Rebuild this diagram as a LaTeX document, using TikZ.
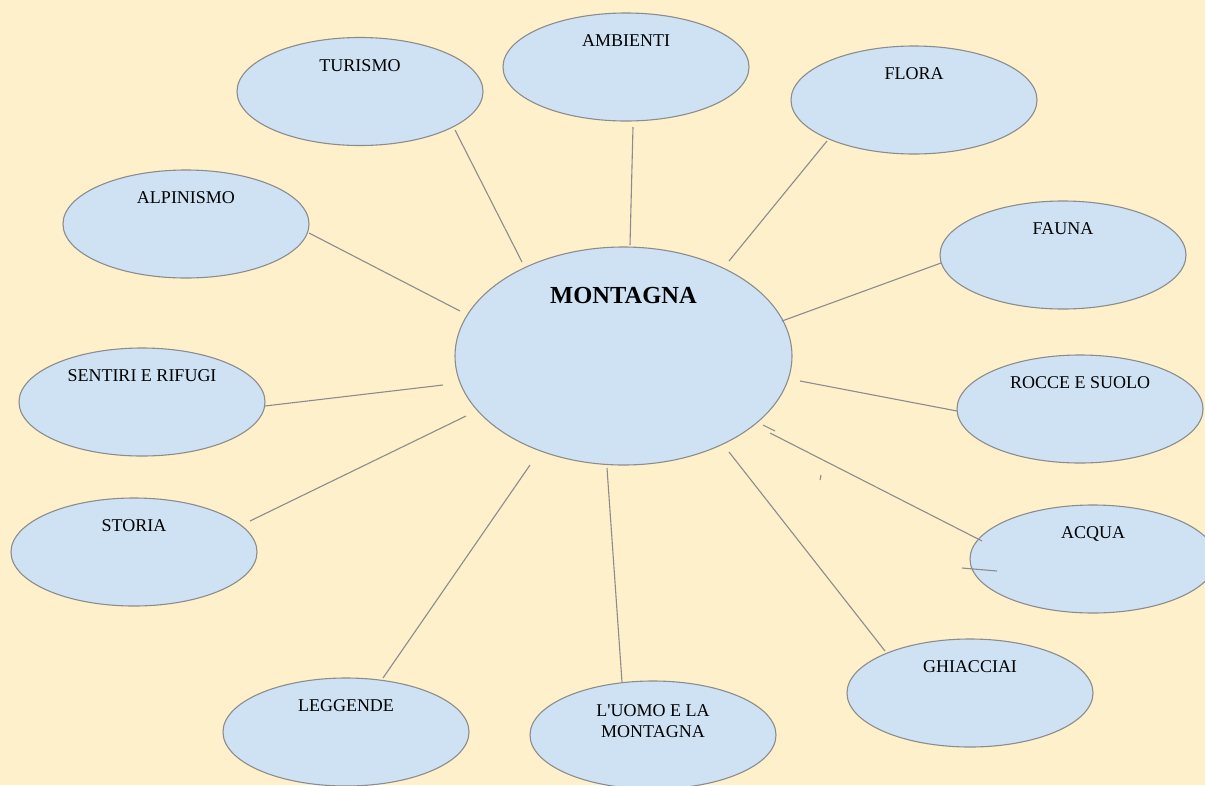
\documentclass[tikz,border=0pt]{standalone}
\usepackage{fontspec}
\setmainfont{Liberation Serif}[Ligatures=TeXOff]
\usetikzlibrary{shapes.geometric}
\definecolor{bg}{HTML}{FFF0CC}
\definecolor{bubf}{HTML}{CFE2F3}
\definecolor{lineg}{HTML}{8C8C8C}
\tikzset{
  bub/.style={ellipse, draw=lineg, fill=bubf, line width=1.1pt,
    minimum width=246pt, minimum height=108pt, inner sep=0pt},
  lab/.style={font=\fontsize{18}{21}\selectfont, align=center, inner sep=0pt,
    anchor=base},
  conn/.style={draw=lineg, line width=1.1pt},
}
\begin{document}
\begin{tikzpicture}[x={(1pt,0)}, y={(0,-1pt)}]
\fill[bg] (0,0) rectangle (1205,785);
\useasboundingbox (0,0) rectangle (1205,785);

\coordinate (t1) at (455,130); \coordinate (t2) at (522,262);
\coordinate (a1) at (633,127); \coordinate (a2) at (630,245);
\coordinate (f1) at (827,141); \coordinate (f2) at (729,261);
\coordinate (p1) at (309,233); \coordinate (p2) at (460,311);
\coordinate (u1) at (941,263); \coordinate (u2) at (782,321);
\coordinate (s1) at (265,406); \coordinate (s2) at (443,385);
\coordinate (r1) at (800,381); \coordinate (r2) at (957,411);
\coordinate (o1) at (250,521); \coordinate (o2) at (466,416);
\coordinate (q1) at (770,433); \coordinate (q2) at (982,541);
\coordinate (g1) at (729,452); \coordinate (g2) at (885,651);
\coordinate (l1) at (530,465); \coordinate (l2) at (383,678);
\coordinate (m1) at (607,468); \coordinate (m2) at (622,682);

\node[bub, minimum width=337pt, minimum height=218pt] (main) at (623.5,356) {};
\node[font=\fontsize{24.5}{28}\selectfont\bfseries, inner sep=0pt, anchor=base]
  (mainL) at ([yshift=53pt]main.center) {MONTAGNA};

\node[bub] (tur) at (360,91.5) {};
\node[bub] (amb) at (626,67) {};
\node[bub] (flo) at (914,100) {};
\node[bub] (alp) at (186,224) {};
\node[bub] (fau) at (1063,255) {};
\node[bub] (sen) at (142,402) {};
\node[bub] (roc) at (1080,409) {};
\node[bub] (sto) at (134,552) {};
\node[bub] (acq) at (1093,559) {};
\node[bub] (ghi) at (970,693) {};
\node[bub] (leg) at (346,732) {};
\node[bub] (uom) at (653,735) {};

\node[lab] (turL) at ([yshift=20.5pt]tur.center) {TURISMO};
\node[lab] (ambL) at ([yshift=20.5pt]amb.center) {AMBIENTI};
\node[lab] (floL) at ([yshift=20.5pt]flo.center) {FLORA};
\node[lab] (alpL) at ([yshift=20.5pt]alp.center) {ALPINISMO};
\node[lab] (fauL) at ([yshift=20.5pt]fau.center) {FAUNA};
\node[lab] (senL) at ([yshift=20.5pt]sen.center) {SENTIRI E RIFUGI};
\node[lab] (rocL) at ([yshift=20.5pt]roc.center) {ROCCE E SUOLO};
\node[lab] (stoL) at ([yshift=20.5pt]sto.center) {STORIA};
\node[lab] (acqL) at ([yshift=20.5pt]acq.center) {ACQUA};
\node[lab] (ghiL) at ([yshift=20.5pt]ghi.center) {GHIACCIAI};
\node[lab] (legL) at ([yshift=20.5pt]leg.center) {LEGGENDE};
\node[lab] (uomL) at ([yshift=-2pt]uom.center) {L'UOMO E LA\\MONTAGNA};

\path[conn] (t1) -- (t2);
\path[conn] (a1) -- (a2);
\path[conn] (f1) -- (f2);
\path[conn] (p1) -- (p2);
\path[conn] (u1) -- (u2);
\path[conn] (s1) -- (s2);
\path[conn] (r1) -- (r2);
\path[conn] (o1) -- (o2);
\path[conn] (q1) -- (q2);
\path[conn] (g1) -- (g2);
\path[conn] (l1) -- (l2);
\path[conn] (m1) -- (m2);

% stray short strokes
\coordinate (x1) at (763,425); \coordinate (x2) at (775,431);
\coordinate (y1) at (821,475); \coordinate (y2) at (820,480);
\coordinate (z1) at (962,568); \coordinate (z2) at (997,571);
\path[conn] (x1) -- (x2);
\path[conn] (y1) -- (y2);
\path[conn] (z1) -- (z2);
\end{tikzpicture}
\end{document}
